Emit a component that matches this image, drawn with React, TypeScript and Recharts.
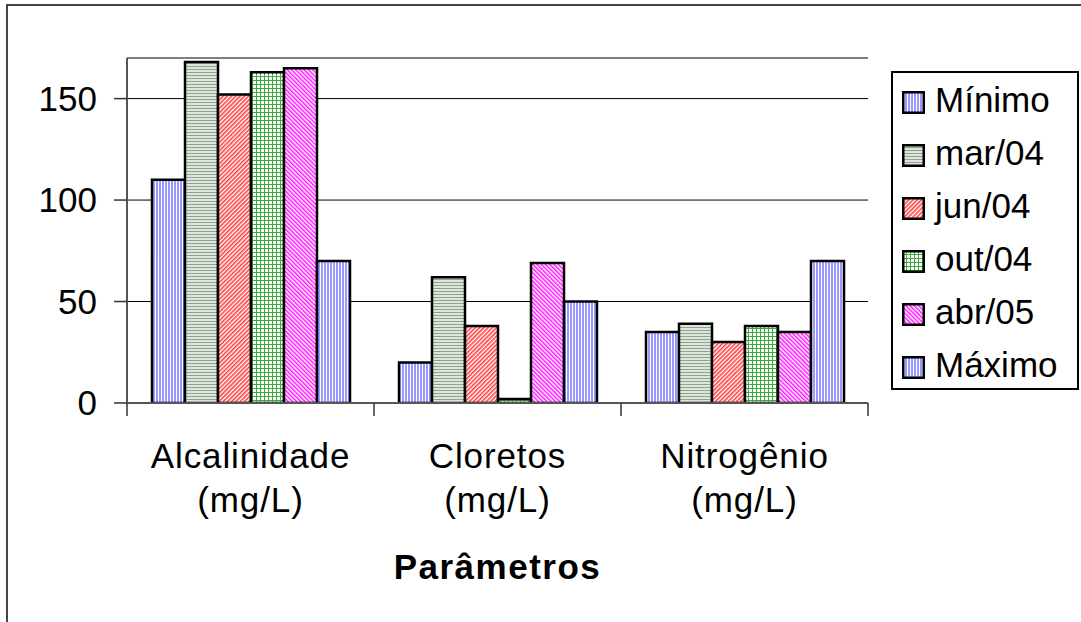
import React from 'react';
import { BarChart, Bar, XAxis, YAxis, CartesianGrid, Legend, Label } from 'recharts';

const categories = ['Alcalinidade (mg/L)', 'Cloretos (mg/L)', 'Nitrogênio (mg/L)'];
const seriesNames = ['Mínimo', 'mar/04', 'jun/04', 'out/04', 'abr/05', 'Máximo'];
const minimo = [110, 20, 35];
const mar04 = [168, 62, 39];
const jun04 = [152, 38, 30];
const out04 = [163, 2, 38];
const abr05 = [165, 69, 35];
const maximo = [70, 50, 70];
const yTicks = [0, 50, 100, 150];
const yMax = 170;
const axisTitle = 'Parâmetros';

const seriesValues = [minimo, mar04, jun04, out04, abr05, maximo];
const patternIds = ['pBlue', 'pGray', 'pRed', 'pGreen', 'pMagenta', 'pBlue'];
const keys = seriesNames.map((_, j) => 's' + j);

const data = categories.map((c, i) => {
  const row: any = { name: c };
  seriesValues.forEach((v, j) => {
    row[keys[j]] = v[i];
  });
  return row;
});

const FONT = '"Liberation Sans", Arial, Helvetica, sans-serif';
const TICK_LEN = 13;

const Patterns = () => (
  <svg width={0} height={0} style={{ position: 'absolute' }}>
    <defs>
      <pattern id="pBlue" width={3} height={3} patternUnits="userSpaceOnUse">
        <rect x={0} y={0} width={3} height={3} fill="#ffffff" />
        <rect x={0} y={0} width={2} height={3} fill="#9999ff" />
      </pattern>
      <pattern id="pGray" width={3} height={3} patternUnits="userSpaceOnUse">
        <rect x={0} y={0} width={3} height={3} fill="#dde5dd" />
        <rect x={0} y={0} width={3} height={1} fill="#8ea38e" />
      </pattern>
      <pattern id="pRed" width={3} height={3} patternUnits="userSpaceOnUse" patternTransform="rotate(45)">
        <rect x={0} y={0} width={3} height={3} fill="#ffffff" />
        <rect x={0} y={0} width={1.6} height={3} fill="#ff4040" />
      </pattern>
      <pattern id="pGreen" width={4} height={4} patternUnits="userSpaceOnUse">
        <rect x={0} y={0} width={4} height={4} fill="#ffffff" />
        <rect x={0} y={0} width={1} height={4} fill="#3caa3c" />
        <rect x={0} y={0} width={4} height={1} fill="#3caa3c" />
      </pattern>
      <pattern id="pMagenta" width={3} height={3} patternUnits="userSpaceOnUse" patternTransform="rotate(-45)">
        <rect x={0} y={0} width={3} height={3} fill="#ffffff" />
        <rect x={0} y={0} width={1.6} height={3} fill="#ff20ff" />
      </pattern>
    </defs>
  </svg>
);

const CatTick = (props: any) => {
  const { x, y, payload, width, visibleTicksCount, index } = props;
  const half =
    payload && typeof payload.offset === 'number' && payload.offset > 0
      ? payload.offset
      : width / (visibleTicksCount || categories.length) / 2;
  const str = String(payload.value);
  const idx = str.indexOf(' (');
  const lines = idx >= 0 ? [str.slice(0, idx), str.slice(idx + 1)] : [str];
  const isLast = index === (visibleTicksCount || categories.length) - 1;
  return (
    <g>
      <line x1={x - half} x2={x - half} y1={y} y2={y + TICK_LEN} stroke="#333" strokeWidth={1.5} />
      {isLast && <line x1={x + half} x2={x + half} y1={y} y2={y + TICK_LEN} stroke="#333" strokeWidth={1.5} />}
      <text x={x} y={y} textAnchor="middle" fontSize={35} fontFamily={FONT} fill="#000" letterSpacing={0.9}>
        {lines.map((l, i) => (
          <tspan key={i} x={x} dy={i === 0 ? 65 : 44}>
            {l}
          </tspan>
        ))}
      </text>
    </g>
  );
};

const LegendBox = () => (
  <div
    style={{
      border: '2px solid #000',
      boxSizing: 'border-box',
      width: 188,
      height: 319,
      paddingTop: 0,
      paddingLeft: 9,
      background: '#fff',
      fontFamily: FONT,
    }}
  >
    {seriesNames.map((n, j) => (
      <div key={j} style={{ height: 53, display: 'flex', alignItems: 'center' }}>
        <svg width={23} height={23} style={{ marginRight: 10, marginTop: 5 }}>
          <rect x={1.25} y={1.25} width={20.5} height={20.5} fill={`url(#${patternIds[j]})`} stroke="#000" strokeWidth={2.5} />
        </svg>
        <span style={{ fontSize: 35, lineHeight: 'normal', color: '#000' }}>{n}</span>
      </div>
    ))}
  </div>
);

export default function App() {
  return (
    <div style={{ position: 'absolute', left: 0, top: 0, width: 1081, height: 622, overflow: 'hidden', background: '#fff' }}>
      <Patterns />
      <div
        style={{
          position: 'absolute',
          left: 6,
          top: 4,
          width: 1200,
          height: 800,
          borderLeft: '2px solid #444',
          borderTop: '2px solid #444',
        }}
      />
      <div style={{ position: 'absolute', left: 0, top: 0 }}>
        <BarChart
          width={1081}
          height={622}
          data={data}
          margin={{ top: 58, right: 213, left: 47, bottom: 29 }}
          barCategoryGap={25}
          barGap={0}
          style={{ fontFamily: FONT }}
        >
          <CartesianGrid xAxisId="cat" yAxisId="left" vertical={false} stroke="#000" strokeWidth={1} />
          <XAxis
            xAxisId="cat"
            dataKey="name"
            axisLine={{ stroke: '#555', strokeWidth: 2 }}
            tickLine={false}
            tickSize={0}
            tickMargin={0}
            interval={0}
            height={190}
            tick={<CatTick />}
          >
            <Label
              value={axisTitle}
              position="insideBottom"
              offset={14}
              style={{ fontSize: 35, fontWeight: 'bold', fill: '#000', fontFamily: FONT, letterSpacing: 1.5 }}
            />
          </XAxis>
          <XAxis
            xAxisId="top"
            orientation="top"
            type="number"
            domain={[0, 1]}
            allowDataOverflow
            tick={false}
            tickLine={false}
            axisLine={{ stroke: '#888', strokeWidth: 2 }}
            height={0}
          />
          <YAxis
            yAxisId="left"
            domain={[0, yMax]}
            ticks={yTicks}
            interval={0}
            allowDataOverflow
            width={80}
            tickSize={TICK_LEN}
            tickMargin={17}
            tickLine={{ stroke: '#333', strokeWidth: 1.5 }}
            axisLine={{ stroke: '#555', strokeWidth: 2 }}
            tick={{ fontSize: 35, fill: '#000', fontFamily: FONT }}
          />
          <YAxis
            yAxisId="right"
            orientation="right"
            domain={[0, 1]}
            allowDataOverflow
            tick={false}
            tickLine={false}
            axisLine={{ stroke: '#888', strokeWidth: 2 }}
            width={0}
          />
          <Legend
            layout="vertical"
            align="center"
            verticalAlign="middle"
            content={<LegendBox />}
            wrapperStyle={{ position: 'absolute', left: 891, top: 71, width: 188, height: 319 }}
          />
          {keys.map((k, j) => (
            <Bar
              key={k}
              dataKey={k}
              name={seriesNames[j]}
              xAxisId="cat"
              yAxisId="left"
              fill={`url(#${patternIds[j]})`}
              stroke="#000"
              strokeWidth={2.5}
              isAnimationActive={false}
            />
          ))}
        </BarChart>
      </div>
    </div>
  );
}
